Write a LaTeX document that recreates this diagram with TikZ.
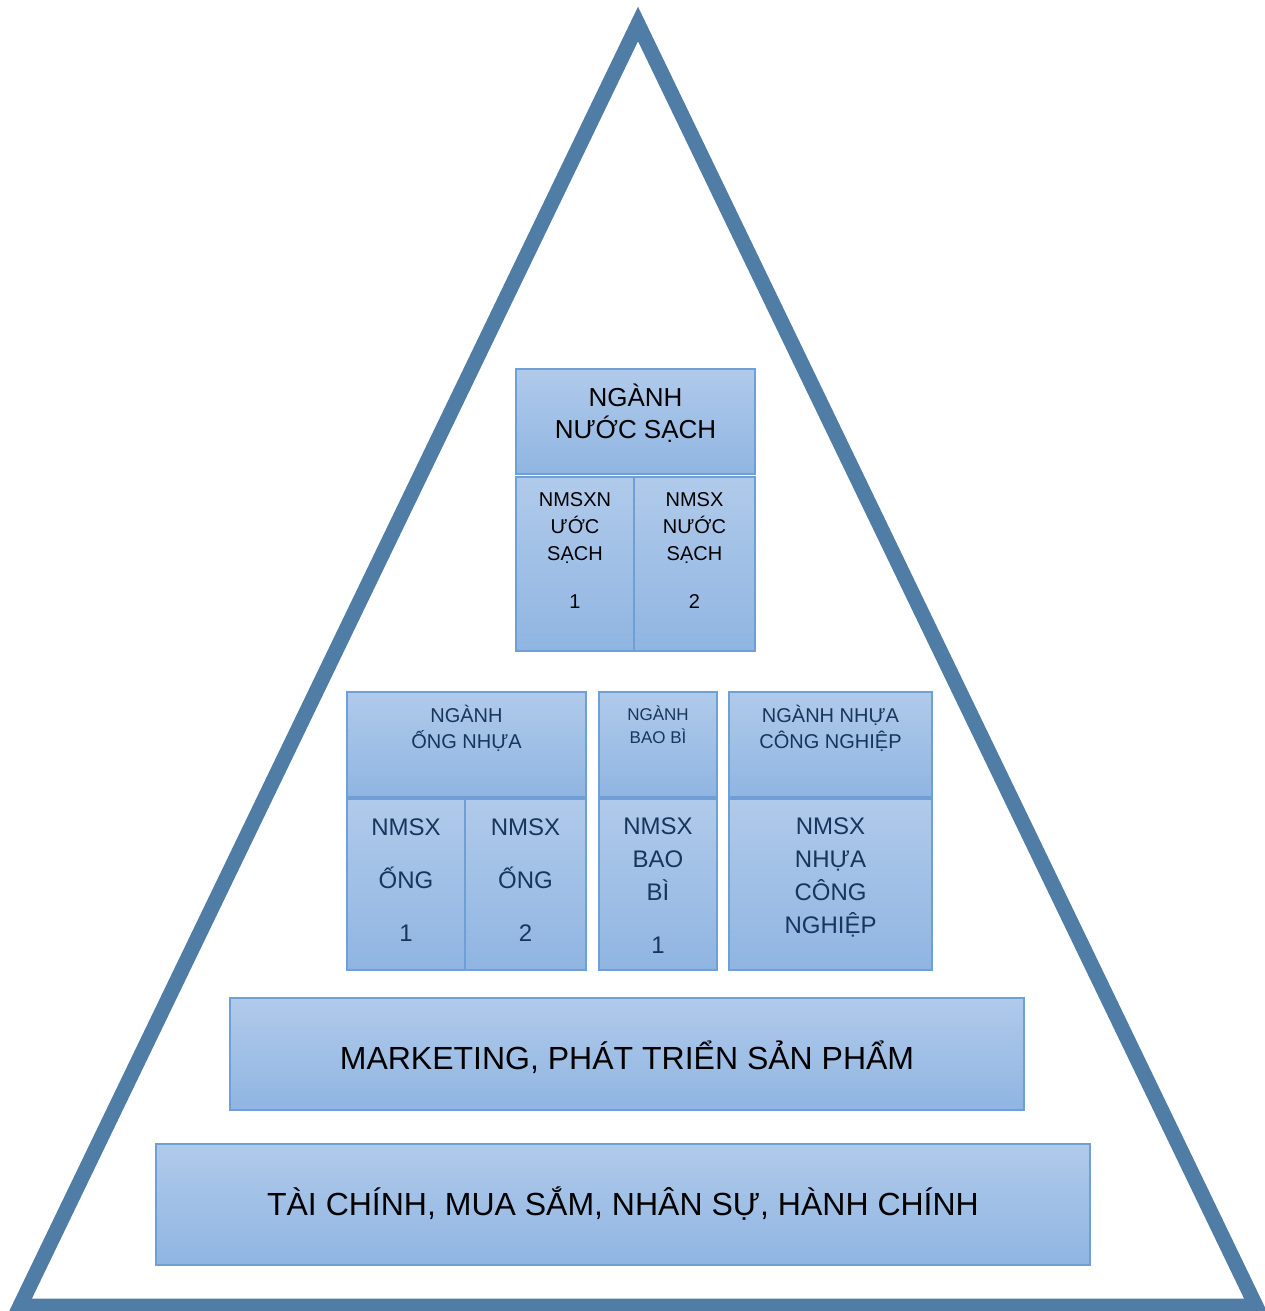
\documentclass[tikz,border=0pt]{standalone}
\usepackage{fontspec}
\setmainfont{Liberation Sans}
\usetikzlibrary{positioning}
\definecolor{pyrline}{HTML}{4F7DA6}
\definecolor{celltop}{HTML}{B0CAEA}
\definecolor{cellbot}{HTML}{90B5E2}
\definecolor{cellline}{HTML}{6E9FD6}
\definecolor{navytxt}{HTML}{17365D}
\newcommand\txtsize[2]{\fontsize{#1}{#2}\selectfont}
\tikzset{
  pyr/.style={draw=pyrline, line width=15pt, line join=miter},
  cell/.style={draw=cellline, line width=1.2pt, top color=celltop, bottom color=cellbot, inner sep=0pt},
  lbl/.style={anchor=base, align=center, inner sep=0pt},
  toptxt/.style={lbl, font=\txtsize{26}{32}},
  subtxt/.style={lbl, font=\txtsize{20}{27}},
  midhdr/.style={lbl, font=\txtsize{20}{26}, text=navytxt},
  midsm/.style={lbl, font=\txtsize{17}{23}, text=navytxt},
  midtxt/.style={lbl, font=\txtsize{24}{27}, text=navytxt},
  midtall/.style={lbl, font=\txtsize{24}{33}, text=navytxt},
  basetxt/.style={lbl, font=\txtsize{32}{36}},
}
\begin{document}
\begin{tikzpicture}[x=1pt, y=-1pt]
  \useasboundingbox (0,0) rectangle (1264,1311);
  % pyramid outline
  \draw[pyr] (20,1306) -- (638,24) -- (1256,1306) -- cycle;
  % top: nuoc sach (labels sit on the baseline of their last line)
  \node[cell, minimum width=239pt, minimum height=105pt] (nuoc) at (635.5,421.5) {};
  \node[cell, minimum width=118pt, minimum height=174pt] (nuoc1) at (575,564) {};
  \node[cell, minimum width=121pt, minimum height=174pt] (nuoc2) at (694.5,564) {};
  \node[toptxt] (nuoctxt) at (635.5,438) {NGÀNH\\NƯỚC SẠCH};
  \node[subtxt] (nuoc1txt) at (575,608) {NMSXN\\ƯỚC\\SẠCH\\[21pt]1};
  \node[subtxt] (nuoc2txt) at (694.5,608) {NMSX\\NƯỚC\\SẠCH\\[21pt]2};
  % middle: ong nhua, bao bi, nhua cong nghiep
  \node[cell, minimum width=239pt, minimum height=105pt] (ong) at (466.5,744.5) {};
  \node[cell, minimum width=118pt, minimum height=171pt] (ong1) at (406,884.5) {};
  \node[cell, minimum width=121pt, minimum height=171pt] (ong2) at (525.5,884.5) {};
  \node[cell, minimum width=118pt, minimum height=105pt] (baobi) at (658,744.5) {};
  \node[cell, minimum width=118pt, minimum height=171pt] (baobi1) at (658,884.5) {};
  \node[cell, minimum width=203pt, minimum height=105pt] (nhua) at (830.5,744.5) {};
  \node[cell, minimum width=203pt, minimum height=171pt] (nhua1) at (830.5,884.5) {};
  \node[midhdr] (ongtxt) at (466.5,748) {NGÀNH\\ỐNG NHỰA};
  \node[midsm] (baobitxt) at (658,743) {NGÀNH\\BAO BÌ};
  \node[midhdr] (nhuatxt) at (830.5,748) {NGÀNH NHỰA\\CÔNG NGHIỆP};
  \node[midtxt] (ong1txt) at (406,941) {NMSX\\[26pt]ỐNG\\[26pt]1};
  \node[midtxt] (ong2txt) at (525.5,941) {NMSX\\[26pt]ỐNG\\[26pt]2};
  \node[midtall] (baobi1txt) at (658,953) {NMSX\\BAO\\BÌ\\[20pt]1};
  \node[midtall] (nhua1txt) at (830.5,933) {NMSX\\NHỰA\\CÔNG\\NGHIỆP};
  % bottom layers
  \node[cell, minimum width=794pt, minimum height=112pt] (mkt) at (627,1054) {};
  \node[basetxt] (mkttxt) at (627,1069) {MARKETING, PHÁT TRIỂN SẢN PHẨM};
  \node[cell, minimum width=934pt, minimum height=121pt] (taichinh) at (623,1204.5) {};
  \node[basetxt] (taichinhtxt) at (623,1215) {TÀI CHÍNH, MUA SẮM, NHÂN SỰ, HÀNH CHÍNH};
\end{tikzpicture}
\end{document}
